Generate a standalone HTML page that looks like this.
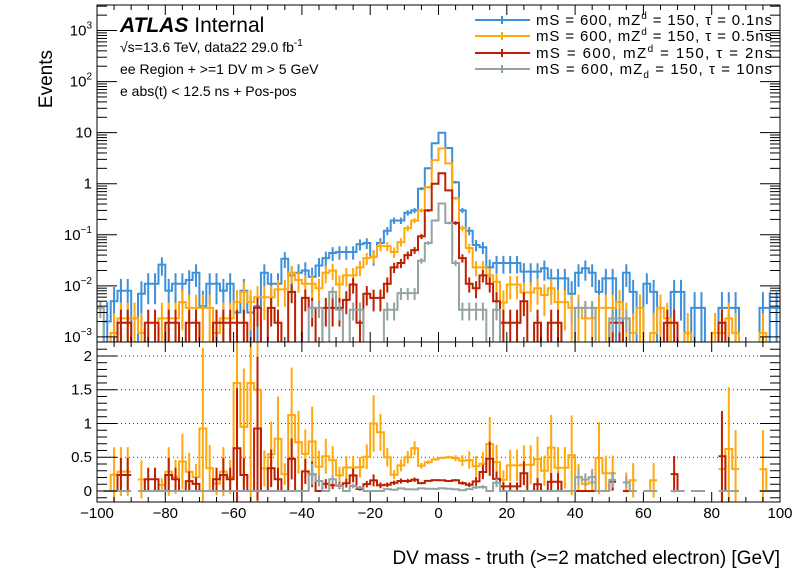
<!DOCTYPE html>
<html><head><meta charset="utf-8">
<style>
body{margin:0;background:#fff;}
svg{display:block;font-family:"Liberation Sans",sans-serif;}
</style></head>
<body>
<svg id="c" width="796" height="572" viewBox="0 0 796 572">
<defs>
<clipPath id="clipTop"><rect x="97" y="5" width="683" height="337"/></clipPath>
<clipPath id="clipBot"><rect x="97" y="342" width="683" height="160"/></clipPath>
</defs>
<rect x="0" y="0" width="796" height="572" fill="#fff"/>
<g id="grid"></g>
<g id="topMarks" clip-path="url(#clipTop)"></g>
<g id="botMarks" clip-path="url(#clipBot)"></g>
<rect x="97" y="5" width="683" height="337" fill="none" stroke="#000" stroke-width="1"/>
<rect x="97" y="342" width="683" height="160" fill="none" stroke="#000" stroke-width="1"/>
<g id="axes"></g>
<text x="120" y="32" font-size="21"><tspan font-weight="bold" font-style="italic">ATLAS</tspan> Internal</text>
<text x="120" y="52" font-size="14">√s=13.6 TeV, data22 29.0 fb<tspan dy="-6" font-size="10">-1</tspan></text>
<text x="120" y="74" font-size="14">ee Region + &gt;=1 DV m &gt; 5 GeV</text>
<text x="120" y="96" font-size="14">e abs(t) &lt; 12.5 ns + Pos-pos</text>
<text transform="translate(52,50) rotate(-90)" font-size="19" text-anchor="end">Events</text>
<text x="780" y="564" font-size="19" text-anchor="end">DV mass - truth (&gt;=2 matched electron) [GeV]</text>
<g id="legend"></g>
</svg>
<script>
const binLow = -100, binWidth = 2;
const blueVals = [0,0.002,0.005,0.008,0.008,0,0.007,0.011,0.011,0.026,
0.008,0.011,0.011,0.013,0.018,0.004,0.011,0.011,0.008,0.011,
0.003,0.008,0.003,0.004,0.018,0.011,0.011,0.034,0.016,0.018,
0.02,0.015,0.025,0.035,0.044,0.046,0.046,0.046,0.065,0.069,
0.037,0.069,0.12,0.19,0.19,0.27,0.3,0.8,2.0,6.2,
10,5,1.07,0.3,0.12,0.063,0.057,0.023,0.028,0.028,
0.028,0.028,0.019,0.019,0.019,0.022,0.014,0.014,0.014,0.007,
0.018,0.022,0.018,0.0076,0.014,0.014,0,0.018,0.0076,0,
0.011,0.0076,0,0,0.0076,0.0076,0,0.0037,0.0037,0,
0,0.0037,0.0037,0.0037,0,0,0,0.0037,0.0037,0.0037];
const orangeVals = [0,0,0.0012,0.0023,0.0023,0.0023,0.0012,0,0,0.0023,
0.0023,0.0023,0.0048,0.0037,0.0037,0.0037,0.0037,0.0012,0.0023,0.0023,
0.0048,0.0076,0.0048,0.006,0.006,0.006,0.0085,0.0085,0.018,0.013,
0.011,0.011,0.009,0.018,0.02,0.0106,0.016,0.016,0.023,0.035,
0.037,0.06,0.06,0.046,0.072,0.135,0.19,0.3,0.85,2.9,
4.9,2.5,0.52,0.135,0.055,0.023,0.023,0.016,0.012,0.0047,
0.0106,0.0106,0.0074,0.0074,0.009,0.0066,0.009,0.0048,0.0048,0.0037,
0.0037,0.0023,0.0023,0.0037,0.0037,0.0037,0.0048,0.0023,0.0012,0.0037,
0,0.0012,0.0037,0.0023,0,0,0.0012,0,0,0,
0.0012,0.0012,0.0023,0.0012,0,0,0,0.0012,0,0];
const redVals = [0,0,0,0.0019,0.0019,0,0,0.0019,0.0019,0,
0.0019,0.0019,0,0.0019,0.0019,0,0,0.0019,0.0019,0.0019,
0.0019,0.0019,0,0.0037,0,0.0037,0.0019,0,0.0076,0,
0.0058,0.0037,0,0.0037,0.0037,0.0037,0.0053,0.0106,0.0019,0.007,
0.0058,0.0058,0.011,0.023,0.028,0.04,0.05,0.093,0.3,1.0,
1.6,0.74,0.17,0.035,0.011,0.009,0.016,0.011,0.005,0.0019,
0.0019,0.0019,0.005,0,0.0019,0,0.0019,0.0019,0,0,
0,0,0,0,0,0.0019,0.0019,0,0,0,
0,0,0,0.0019,0.0019,0,0,0,0,0,
0,0.0019,0,0,0,0,0,0,0,0];
const grayVals = [0.0037,0,0,0,0,0,0,0,0,0,
0,0,0,0,0,0,0,0,0,0,
0,0,0,0,0,0,0,0,0,0,
0,0.0037,0.0037,0,0.0076,0.0034,0,0.0034,0.0034,0,
0,0,0.0034,0.0034,0.0072,0.0072,0.0072,0.031,0.069,0.19,
0.41,0.17,0.028,0.0034,0.0034,0.0034,0.0034,0,0.0034,0,
0,0,0,0,0,0,0,0,0,0,
0.0037,0.0037,0.0037,0,0,0.0023,0.0023,0.0023,0,0,
0,0,0,0,0,0,0,0,0,0,
0,0,0,0,0,0,0,0,0,0];
const errWeights = [0.004,0.0025,0.0012,0.0005];
const seriesNames = ["0.1ns","0.5ns","2ns","10ns"];
const xTicks = [-100,-80,-60,-40,-20,0,20,40,60,80,100];
const yDecades = [-3,-2,-1,0,1,2,3];
const ratioTicks = [0,0.5,1,1.5,2];

const colors = ["#3f90da","#ffa90e","#bd1f01","#94a4a2"];
const allVals = [blueVals,orangeVals,redVals,grayVals];
const NS="http://www.w3.org/2000/svg";
const X0=97,X1=780;
const xs = v => X0 + (v - (-100)) / 200 * (X1 - X0);
const LMIN=-3.1, LMAX=3.5, YT=5, YB=342;
const ys = v => v<=0 ? YB+5 : YB - (Math.log10(v)-LMIN)/(LMAX-LMIN)*(YB-YT);
const RMIN=-0.163, RMAX=2.207, RT=342, RB=502;
const yr = r => RB - (r-RMIN)/(RMAX-RMIN)*(RB-RT);
function mk(tag, attrs, parent){const e=document.createElementNS(NS,tag);for(const k in attrs)e.setAttribute(k,attrs[k]);parent.appendChild(e);return e;}

const topG=document.getElementById('topMarks'), botG=document.getElementById('botMarks');
const ax=document.getElementById('axes'), grid=document.getElementById('grid');

[0.5,1,1.5,2].forEach(r=>{
  const l=mk('line',{x1:X0,x2:X1,y1:yr(r),y2:yr(r),stroke:'#000','stroke-width':0.8,'stroke-dasharray':'1,3'},grid);
  
  
});

for(let s=0;s<4;s++){
  const vals=allVals[s];
  let d='';
  vals.forEach((v,i)=>{
    const xa=xs(binLow+i*binWidth), xb=xs(binLow+(i+1)*binWidth), y=ys(v);
    d += (i===0?'M':'L')+xa.toFixed(1)+','+y.toFixed(1)+'L'+xb.toFixed(1)+','+y.toFixed(1);
  });
  const p=mk('path',{d:d,fill:'none',stroke:colors[s],'stroke-width':2},topG);
  
  
  vals.forEach((v,i)=>{
    if(v<=0) return;
    const e=Math.sqrt(v*errWeights[s]);
    const xc=xs(binLow+(i+0.5)*binWidth);
    const l=mk('line',{x1:xc,x2:xc,y1:ys(v+e),y2:ys(Math.max(v-e,1e-6)),stroke:colors[s],'stroke-width':2},topG);
    
    
  });
}

for(let s=1;s<4;s++){
  const vals=allVals[s];
  let d='', started=false;
  vals.forEach((v,i)=>{
    const b=blueVals[i];
    const xa=xs(binLow+i*binWidth), xb=xs(binLow+(i+1)*binWidth);
    if(b<=0){ started=false; return; }
    const r=v/b, y=yr(r);
    d += (started?'L':'M')+xa.toFixed(1)+','+y.toFixed(1)+'L'+xb.toFixed(1)+','+y.toFixed(1);
    started=true;
    if(v>0){
      const rel=Math.sqrt(errWeights[s]/v + errWeights[0]/b);
      const e=Math.min(r*rel, 3);
      const xc=(xa+xb)/2;
      const l=mk('line',{x1:xc,x2:xc,y1:yr(r+e),y2:yr(r-e),stroke:colors[s],'stroke-width':2},botG);
      
      
    }
  });
  const p=mk('path',{d:d,fill:'none',stroke:colors[s],'stroke-width':2},botG);
  
  
}

for(let v=-100; v<=100; v+=5){
  const x=xs(v), big=(v%20===0);
  const L=big?10:5;
  [[RB,-1],[RT,1],[YB,-1],[YT,1]].forEach(([y0,dir])=>{
    const t=mk('line',{x1:x,x2:x,y1:y0,y2:y0+dir*L,stroke:'#000','stroke-width':1},ax);
    
    
  });
}
xTicks.forEach(v=>{
  const t=mk('text',{x:xs(v),y:518,'font-size':15,'text-anchor':'middle'},ax);
  t.textContent=String(v).replace('-','−');
  
  
});
yDecades.forEach(k=>{
  for(let m=1;m<=9;m++){
    const v=m*Math.pow(10,k), y=ys(v);
    if(y<YT||y>YB) continue;
    const L=m===1?20:10;
    [[X0,1],[X1,-1]].forEach(([x0,dir])=>{
      const t=mk('line',{x1:x0,x2:x0+dir*L,y1:y,y2:y,stroke:'#000','stroke-width':1},ax);
      
      
    });
  }
  const y=ys(Math.pow(10,k));
  const t=mk('text',{x:92,y:y+5,'font-size':15,'text-anchor':'end'},ax);
  if(k===0) t.textContent='1';
  else if(k===1) t.textContent='10';
  else { t.textContent='10'; const sp=mk('tspan',{dy:-7,'font-size':10},t); sp.textContent=String(k).replace('-','−'); }
  
  
});
for(let r=-0.1;r<=2.2;r+=0.1){
  const rr=Math.round(r*10)/10, y=yr(rr), big=(Math.round(rr*10)%5===0);
  const L=big?20:10;
  [[X0,1],[X1,-1]].forEach(([x0,dir])=>{
    const t=mk('line',{x1:x0,x2:x0+dir*L,y1:y,y2:y,stroke:'#000','stroke-width':1},ax);
    
    
  });
}
ratioTicks.forEach(r=>{
  const t=mk('text',{x:92,y:yr(r)+5,'font-size':15,'text-anchor':'end'},ax);
  t.textContent=String(r);
  
  
});

const lg=document.getElementById('legend');
const legY=[20,36,53,69];
for(let s=0;s<4;s++){
  const y=legY[s];
  const l=mk('line',{x1:475,x2:530,y1:y,y2:y,stroke:colors[s],'stroke-width':2},lg);
  
  
  const eb=mk('line',{x1:502,x2:502,y1:y-4,y2:y+4,stroke:colors[s],'stroke-width':2},lg);
  
  
  const t=mk('text',{x:536,y:y+5,'font-size':15,textLength:236,lengthAdjust:'spacing'},lg);
  
  
  const a=mk('tspan',{},t); a.textContent='mS = 600, mZ';
  const sup=mk('tspan',{dy:(s===3?4:-6),'font-size':10},t); sup.textContent='d';
  const b=mk('tspan',{dy:(s===3?-4:6)},t); b.textContent=' = 150, τ = '+seriesNames[s];
}
</script>
</body></html>
